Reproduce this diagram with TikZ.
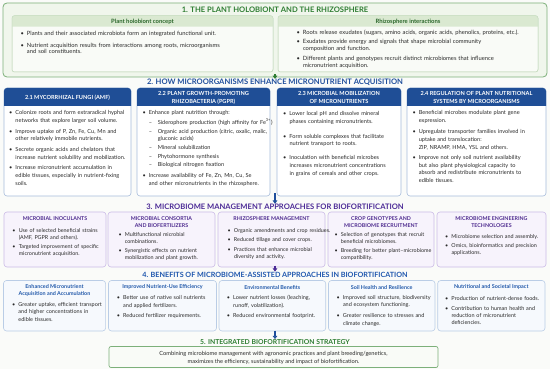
\documentclass[tikz,border=0pt]{standalone}
\usepackage{fontspec}
\setmainfont{Lato}
\usetikzlibrary{arrows.meta,fit}
\definecolor{bg}{HTML}{FAFBF9}
\definecolor{txt}{HTML}{2A2A2A}
\definecolor{gtitle}{HTML}{2E7D32}
\definecolor{gborder}{HTML}{7DB07A}
\definecolor{gfill}{HTML}{F0F6EC}
\definecolor{ginner}{HTML}{F9FBF7}
\definecolor{ginnerb}{HTML}{C9DEC3}
\definecolor{ghead}{HTML}{DAE9D1}
\definecolor{gheadtxt}{HTML}{2B672B}
\definecolor{btitle}{HTML}{1F4E9C}
\definecolor{bhead}{HTML}{1F4E96}
\definecolor{bborder}{HTML}{A7BCDB}
\definecolor{ptitle}{HTML}{4B2A96}
\definecolor{pfill}{HTML}{F7F3FC}
\definecolor{pborder}{HTML}{CBBBE6}
\definecolor{phead}{HTML}{4E2B8F}
\definecolor{cfourtitle}{HTML}{1F57AE}
\definecolor{cfourfill}{HTML}{F6F9FD}
\definecolor{cfourborder}{HTML}{BACDE6}
\definecolor{cfourhead}{HTML}{2259AA}
\newlength{\bulind}\setlength{\bulind}{6.3pt}
\newcommand{\bul}[1]{\leavevmode\hangindent=\bulind\hangafter=1\hbox to \bulind{\textbullet\hss}#1\par}
\newcommand{\dsh}[1]{\leavevmode\hangindent=\dimexpr\bulind+9pt\relax\hangafter=1\hbox to \bulind{}\hbox to 9pt{–\hss}#1\par}
\newcommand{\gp}[1]{\vspace{#1pt}}
\tikzset{
  every node/.style={inner sep=0pt, text=txt},
  sectitle/.style={font=\fontsize{7.6}{8}\selectfont\bfseries},
  arr/.style={line width=1.3pt, -{Triangle[length=3.2pt,width=4.6pt]}},
  sonebox/.style={draw=gborder, fill=gfill, line width=0.8pt, rounded corners=4pt, inner sep=0pt},
  soneinner/.style={draw=ginnerb, fill=ginner, line width=0.5pt, rounded corners=2.5pt, inner sep=0pt},
  sonehead/.style={text=gheadtxt, font=\fontsize{5.9}{6}\selectfont\bfseries},
  btwobox/.style={draw=bborder, fill=white, line width=0.6pt, rounded corners=3pt, inner sep=0pt},
  btwohead/.style={text=white, align=center, font=\fontsize{5.6}{7.6}\selectfont\bfseries},
  pbox/.style={draw=pborder, fill=pfill, line width=0.6pt, rounded corners=3pt, inner sep=0pt},
  phd/.style={text=phead, align=center, font=\fontsize{5.3}{7.4}\selectfont\bfseries},
  fbox/.style={draw=cfourborder, fill=cfourfill, line width=0.6pt, rounded corners=3pt, inner sep=0pt},
  fhd/.style={text=cfourhead, align=center, font=\fontsize{5.4}{6.8}\selectfont\bfseries},
  body/.style={anchor=base west, align=left, text width=200pt},
  bodyone/.style={body, text width=300pt},
}
\begin{document}
\begin{tikzpicture}[x=1pt,y=-1pt]
\useasboundingbox (0,0) rectangle (550,369);
\fill[bg] (0,0) rectangle (550,369);

% ---------- Section 1 ----------
\node[sonebox, fit={(3,3) (547,77)}] (s1) {};
\node[sectitle, text=gtitle] (t1) at (275,9.6) {1. THE PLANT HOLOBIONT AND THE RHIZOSPHERE};
\node[soneinner, fit={(12,15.7) (273,72)}] (s1a) {};
\node[soneinner, fit={(278,15.7) (538,72)}] (s1b) {};
\fill[ghead] (12,26.7) [rounded corners=2.5pt] -- (12,15.7) -- (273,15.7) [sharp corners] -- (273,26.7) -- cycle;
\fill[ghead] (278,26.7) [rounded corners=2.5pt] -- (278,15.7) -- (538,15.7) [sharp corners] -- (538,26.7) -- cycle;
\draw[ginnerb, line width=0.5pt, rounded corners=2.5pt] (12,15.7) rectangle (273,72);
\draw[ginnerb, line width=0.5pt, rounded corners=2.5pt] (278,15.7) rectangle (538,72);
\node[sonehead] (h1a) at (142.5,21.4) {Plant holobiont concept};
\node[sonehead] (h1b) at (408,21.4) {Rhizosphere interactions};
\node[bodyone, font=\fontsize{5.8}{6.5}\selectfont] (c1a) at (20.5,35.2) {%
\bul{Plants and their associated microbiota form an integrated functional unit.}\gp{5.8}
\bul{Nutrient acquisition results from interactions among roots, microorganisms\newline and soil constituents.}};
\node[bodyone, font=\fontsize{5.8}{7}\selectfont] (c1b) at (296.5,34.8) {%
\bul{Roots release exudates (sugars, amino acids, organic acids, phenolics, proteins, etc.).}\gp{2}
\bul{Exudates provide energy and signals that shape microbial community\newline composition and function.}\gp{2.7}
\bul{Different plants and genotypes recruit distinct microbiomes that influence\newline micronutrient acquisition.}};

% ---------- Section 2 ----------
\node[sectitle, text=btitle] (t2) at (275,82.4) {2. HOW MICROORGANISMS ENHANCE MICRONUTRIENT ACQUISITION};
\coordinate (a1) at (275,74.5);
\draw[arr, gtitle] (a1) -- (t2.north);
\node[btwobox, fit={(4,88) (131,196)}] (b21) {};
\node[btwobox, fit={(137,88) (270,196)}] (b22) {};
\node[btwobox, fit={(277,88) (401,196)}] (b23) {};
\node[btwobox, fit={(407,88) (546,196)}] (b24) {};
\foreach \xa/\xb in {4/131,137/270,277/401,407/546}{
  \fill[bhead] (\xa,106) [rounded corners=3pt] -- (\xa,88) -- (\xb,88) [sharp corners] -- (\xb,106) -- cycle;
}
\node[btwohead] (h21) at (67.5,97.6) {2.1 MYCORRHIZAL FUNGI (AMF)};
\node[btwohead] (h22) at (203.5,97.6) {2.2 PLANT GROWTH-PROMOTING\\RHIZOBACTERIA (PGPR)};
\node[btwohead] (h23) at (339,97.6) {2.3 MICROBIAL MOBILIZATION\\OF MICRONUTRIENTS};
\node[btwohead] (h24) at (476.5,97.6) {2.4 REGULATION OF PLANT NUTRITIONAL\\SYSTEMS BY MICROORGANISMS};
\tikzset{bbody/.style={body, font=\fontsize{5.6}{7.7}\selectfont}}
\node[bbody] (c21) at (9,114.8) {%
\bul{Colonize roots and form extraradical hyphal\newline networks that explore larger soil volume.}\gp{3}
\bul{Improve uptake of P, Zn, Fe, Cu, Mn and\newline other relatively immobile nutrients.}\gp{3}
\bul{Secrete organic acids and chelators that\newline increase nutrient solubility and mobilization.}\gp{3}
\bul{Increase micronutrient accumulation in\newline edible tissues, especially in nutrient-fixing\newline soils.}};
\node[bbody] (c22) at (142.3,114.5) {%
\bul{Enhance plant nutrition through:}\gp{2}
\dsh{Siderophore production (high affinity for Fe\textsuperscript{3+})}\gp{1.3}
\dsh{Organic acid production (citric, oxalic, malic,\newline gluconic acids)}\gp{1.3}
\dsh{Mineral solubilization}\gp{1}
\dsh{Phytohormone synthesis}\gp{0.3}
\dsh{Biological nitrogen fixation}\gp{3.3}
\bul{Increase availability of Fe, Zn, Mn, Cu, Se\newline and other micronutrients in the rhizosphere.}};
\node[bbody, font=\fontsize{5.6}{7.8}\selectfont] (c23) at (283,115.5) {%
\bul{Lower local pH and dissolve mineral\newline phases containing micronutrients.}\gp{7}
\bul{Form soluble complexes that facilitate\newline nutrient transport to roots.}\gp{6}
\bul{Inoculation with beneficial microbes\newline increases micronutrient concentrations\newline in grains of cereals and other crops.}};
\node[bbody] (c24) at (412.3,114.8) {%
\bul{Beneficial microbes modulate plant gene\newline expression.}\gp{3.6}
\bul{Upregulate transporter families involved in\newline uptake and translocation:\newline ZIP, NRAMP, HMA, YSL and others.}\gp{2.6}
\bul{Improve not only soil nutrient availability\newline but also plant physiological capacity to\newline absorb and redistribute micronutrients to\newline edible tissues.}};

% ---------- Section 3 ----------
\node[sectitle, text=ptitle] (t3) at (275,206.7) {3. MICROBIOME MANAGEMENT APPROACHES FOR BIOFORTIFICATION};
\coordinate (a2) at (275,193.5);
\draw[arr, btitle] (a2) -- (t3.north);
\node[pbox, fit={(4,212) (106,267)}] (b31) {};
\node[pbox, fit={(108,212) (215,267)}] (b32) {};
\node[pbox, fit={(218,212) (325,267)}] (b33) {};
\node[pbox, fit={(328,212) (434,267)}] (b34) {};
\node[pbox, fit={(437,212) (546,267)}] (b35) {};
\node[phd] (h31) at (55,218.3) {MICROBIAL INOCULANTS};
\node[phd] (h32) at (161.5,222) {MICROBIAL CONSORTIA\\AND BIOFERTILIZERS};
\node[phd] (h33) at (271.5,218.3) {RHIZOSPHERE MANAGEMENT};
\node[phd] (h34) at (381,222) {CROP GENOTYPES AND\\MICROBIOME RECRUITMENT};
\node[phd] (h35) at (491.5,222) {MICROBIOME ENGINEERING\\TECHNOLOGIES};
\tikzset{pbody/.style={body, font=\fontsize{5.4}{7.4}\selectfont}}
\node[pbody] (c31) at (12.3,232.2) {%
\bul{Use of selected beneficial strains\newline (AMF, PGPR and others).}\gp{1.3}
\bul{Targeted improvement of specific\newline micronutrient acquisition.}};
\node[pbody] (c32) at (118.3,236.5) {%
\bul{Multifunctional microbial\newline combinations.}\gp{1}
\bul{Synergistic effects on nutrient\newline mobilization and plant growth.}};
\node[pbody] (c33) at (227.5,232.2) {%
\bul{Organic amendments and crop residues.}\gp{1.9}
\bul{Reduced tillage and cover crops.}\gp{2.3}
\bul{Practices that enhance microbial\newline diversity and activity.}};
\node[pbody] (c34) at (334.3,236.5) {%
\bul{Selection of genotypes that recruit\newline beneficial microbiomes.}\gp{1.3}
\bul{Breeding for better plant–microbiome\newline compatibility.}};
\node[pbody] (c35) at (445,238.2) {%
\bul{Microbiome selection and assembly.}\gp{1.6}
\bul{Omics, bioinformatics and precision\newline applications.}};

% ---------- Section 4 ----------
\node[sectitle, text=cfourtitle, font=\fontsize{7.2}{8}\selectfont\bfseries] (t4) at (275,274.4) {4. BENEFITS OF MICROBIOME-ASSISTED APPROACHES IN BIOFORTIFICATION};
\coordinate (a3) at (275,265.5);
\draw[arr, ptitle] (a3) -- (t4.north);
\node[fbox, fit={(3.5,280.5) (105.6,331)}] (b41) {};
\node[fbox, fit={(108.5,280.5) (216.5,331)}] (b42) {};
\node[fbox, fit={(219,280.5) (325.7,331)}] (b43) {};
\node[fbox, fit={(328.5,280.5) (435,331)}] (b44) {};
\node[fbox, fit={(437.7,280.5) (545,331)}] (b45) {};
\node[fhd] (h41) at (54.5,290.7) {Enhanced Micronutrient\\Acquisition and Accumulation};
\node[fhd] (h42) at (162.5,287.3) {Improved Nutrient-Use Efficiency};
\node[fhd] (h43) at (272.3,287.3) {Environmental Benefits};
\node[fhd] (h44) at (381.7,287.3) {Soil Health and Resilience};
\node[fhd] (h45) at (491.3,287.3) {Nutritional and Societal Impact};
\tikzset{fbody/.style={body, font=\fontsize{5.5}{7.4}\selectfont}}
\node[fbody] (c41) at (12,306.5) {%
\bul{Greater uptake, efficient transport\newline and higher concentrations in\newline edible tissues.}};
\node[fbody] (c42) at (116.7,299.8) {%
\bul{Better use of native soil nutrients\newline and applied fertilizers.}\gp{2.9}
\bul{Reduced fertilizer requirements.}};
\node[fbody] (c43) at (226.7,299.8) {%
\bul{Lower nutrient losses (leaching,\newline runoff, volatilization).}\gp{2.9}
\bul{Reduced environmental footprint.}};
\node[fbody] (c44) at (336.5,299.5) {%
\bul{Improved soil structure, biodiversity\newline and ecosystem functioning.}\gp{3.6}
\bul{Greater resilience to stresses and\newline climate change.}};
\node[fbody] (c45) at (445,300.2) {%
\bul{Production of nutrient-dense foods.}\gp{2.6}
\bul{Contribution to human health and\newline reduction of micronutrient\newline deficiencies.}};

% ---------- Section 5 ----------
\node[sectitle, text=gtitle, font=\fontsize{6.8}{8}\selectfont\bfseries] (t5) at (275,341.8) {5. INTEGRATED BIOFORTIFICATION STRATEGY};
\coordinate (a4) at (275,330.5);
\draw[arr, btitle] (a4) -- (t5.north);
\node[draw=gborder, fill=ginner, line width=0.7pt, rounded corners=2pt, inner sep=0pt, fit={(109,346.5) (438,367.5)}] (b5) {};
\node[align=center, font=\fontsize{5.7}{8}\selectfont] (c5) at (273.5,358) {Combining microbiome management with agronomic practices and plant breeding/genetics,\\maximizes the efficiency, sustainability and impact of biofortification.};
\end{tikzpicture}
\end{document}
